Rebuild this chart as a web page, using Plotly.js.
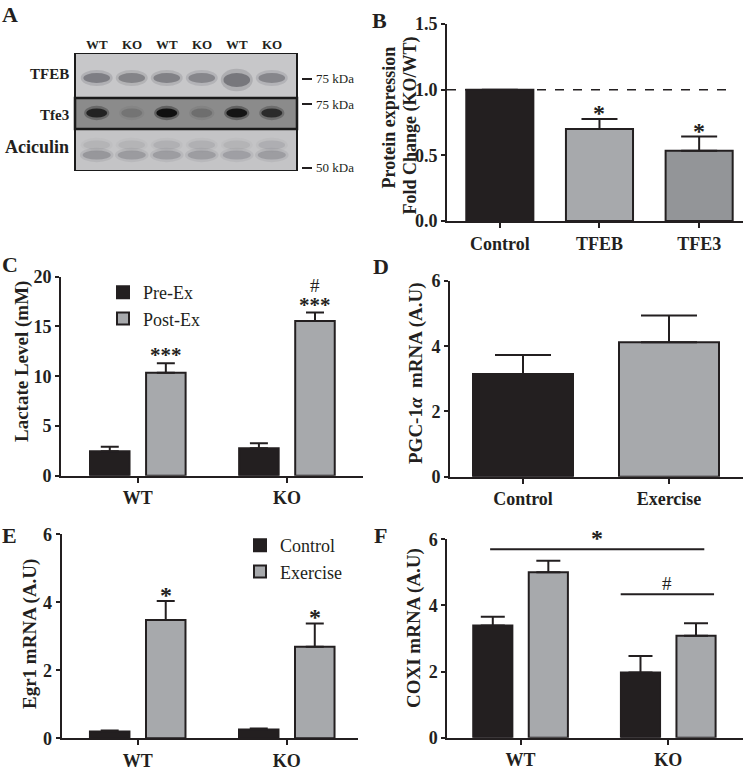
<!DOCTYPE html>
<html>
<head>
<meta charset="utf-8">
<script src="https://cdn.plot.ly/plotly-3.0.1.min.js"></script>
<style>html,body{margin:0;padding:0;background:#fff;}#chart{width:748px;height:770px;}</style>
</head>
<body>
<div id="chart"></div>
<script>
// ---------------- DATA ----------------
// Panel A (western blot) – lanes and relative band darkness
const blotLanes = ['WT', 'KO', 'WT', 'KO', 'WT', 'KO'];
const blotRows = ['TFEB', 'Tfe3', 'Aciculin'];
const tfebBand = [0.55, 0.5, 0.52, 0.48, 0.62, 0.48];
const tfe3Band = [0.8, 0.14, 1.0, 0.18, 0.95, 0.7];
const aciculinLowerBand = [0.5, 0.45, 0.42, 0.42, 0.38, 0.42];
const aciculinUpperBand = [0.22, 0.22, 0.28, 0.28, 0.22, 0.3];
const kdaMarkers = ['75 kDa', '75 kDa', '50 kDa'];

// Panel B
const bCategories = ['Control', 'TFEB', 'TFE3'];
const bValues = [1.0, 0.70, 0.534];
const bErrors = [0, 0.076, 0.109];
const bSignif = ['', '*', '*'];
const bReference = 1.0;
const bTitleLines = ['Protein expression', 'Fold Change (KO/WT)'];

// Panel C
const cGroups = ['WT', 'KO'];
const cPreEx = [2.45, 2.75];
const cPreExErr = [0.45, 0.5];
const cPostEx = [10.35, 15.55];
const cPostExErr = [0.95, 0.85];
const cPostSignif = ['***', '***'];
const cPostHash = ['', '#'];
const cTitle = 'Lactate Level (mM)';

// Panel D
const dCategories = ['Control', 'Exercise'];
const dValues = [3.15, 4.12];
const dErrors = [0.58, 0.82];
const dTitle = 'PGC-1<i>α</i>  mRNA (A.U)';

// Panel E
const eGroups = ['WT', 'KO'];
const eControl = [0.2, 0.26];
const eControlErr = [0.03, 0.03];
const eExercise = [3.48, 2.69];
const eExerciseErr = [0.56, 0.69];
const eSignif = ['*', '*'];
const eTitle = 'Egr1 mRNA (A.U)';

// Panel F
const fGroups = ['WT', 'KO'];
const fControl = [3.39, 1.97];
const fControlErr = [0.27, 0.5];
const fExercise = [5.0, 3.08];
const fExerciseErr = [0.35, 0.38];
const fBrackets = [
  { from: -0.206, to: 1.244, level: 5.7, label: '*' },
  { from: 0.678, to: 1.31, level: 4.34, label: '#' }
];
const fTitle = 'COXI mRNA (A.U)';

// ---------------- STYLE ----------------
const FONT = 'Liberation Serif, "Times New Roman", Times, serif';
const INK = '#231f20';
const DARK = '#231f20';
const LIGHT = '#a7a9ac';
const MID = '#939598';
const W = 748, H = 770;
const px = v => v / W;
const py = v => 1 - v / H;
const GROUP_OFF = 0.188; // centre offset of a bar inside a group (category units)

function errY(arr, cap) {
  return { type: 'data', array: arr, arrayminus: arr.map(() => 0), symmetric: false,
           color: INK, thickness: 2, width: cap, visible: true };
}
const barLine = { color: INK, width: 2 };

const traces = [
  // B
  { type: 'bar', x: bCategories, y: bValues, xaxis: 'x', yaxis: 'y', width: 0.673,
    marker: { color: [DARK, LIGHT, MID], line: barLine }, error_y: errY(bErrors, 18), showlegend: false },
  // C
  { type: 'bar', name: 'Pre-Ex', x: cGroups, y: cPreEx, xaxis: 'x2', yaxis: 'y2',
    marker: { color: DARK, line: barLine }, error_y: errY(cPreExErr, 9), legend: 'legend' },
  { type: 'bar', name: 'Post-Ex', x: cGroups, y: cPostEx, xaxis: 'x2', yaxis: 'y2',
    marker: { color: LIGHT, line: barLine }, error_y: errY(cPostExErr, 9), legend: 'legend' },
  // D
  { type: 'bar', x: dCategories, y: dValues, xaxis: 'x3', yaxis: 'y3', width: 0.685,
    marker: { color: [DARK, LIGHT], line: barLine }, error_y: errY(dErrors, 28), showlegend: false },
  // E
  { type: 'bar', name: 'Control', x: eGroups, y: eControl, xaxis: 'x4', yaxis: 'y4',
    marker: { color: DARK, line: barLine }, error_y: errY(eControlErr, 9), legend: 'legend2' },
  { type: 'bar', name: 'Exercise', x: eGroups, y: eExercise, xaxis: 'x4', yaxis: 'y4',
    marker: { color: LIGHT, line: barLine }, error_y: errY(eExerciseErr, 9), legend: 'legend2' },
  // F
  { type: 'bar', name: 'Control', x: fGroups, y: fControl, xaxis: 'x5', yaxis: 'y5',
    marker: { color: DARK, line: barLine }, error_y: errY(fControlErr, 12), showlegend: false },
  { type: 'bar', name: 'Exercise', x: fGroups, y: fExercise, xaxis: 'x5', yaxis: 'y5',
    marker: { color: LIGHT, line: barLine }, error_y: errY(fExerciseErr, 12), showlegend: false }
];

const tickFont = { family: FONT, size: 18, color: INK, weight: 'bold' };
const titleFont = { family: FONT, size: 19, color: INK, weight: 'bold' };
const bTitleFont = { family: FONT, size: 18, color: INK, weight: 'bold' };
function xAx(domain, range, anchor) {
  return { domain, range, anchor, type: 'category', showline: true, linewidth: 2, linecolor: INK,
           ticks: 'outside', ticklen: 5, tickwidth: 2, tickcolor: INK, tickfont: tickFont,
           showgrid: false, zeroline: false, fixedrange: true };
}
function yAx(domain, range, anchor, dtick, fmt) {
  return { domain, range, anchor, dtick, tick0: 0, tickformat: fmt || '', showline: true, linewidth: 2,
           linecolor: INK, ticks: 'outside', ticklen: 4, tickwidth: 2, tickcolor: INK, tickfont: tickFont,
           showgrid: false, zeroline: false, fixedrange: true };
}

const shapes = [];
const annotations = [];
function paperText(text, x, y, font, extra) {
  annotations.push(Object.assign({ x: px(x), y: py(y), xref: 'paper', yref: 'paper', text, showarrow: false,
                                   xanchor: 'center', yanchor: 'middle', font }, extra || {}));
}

// ---- Y-axis titles (rotated text) ----
paperText(bTitleLines[0], 388.5, 118, bTitleFont, { textangle: -90 });
paperText(bTitleLines[1], 410.5, 126, bTitleFont, { textangle: -90 });
[[cTitle, 22, 362], [dTitle, 416, 373], [eTitle, 30, 634], [fTitle, 414, 628]]
  .forEach(([t, x, y]) => paperText(t, x, y, titleFont, { textangle: -90 }));

// ---- Panel A blot ----
const stripEdges = [0, 45, 76, 118];
const stripColors = ['#c7c7c9', '#8b8b8b', '#c4c4c6'];
for (let r = 0; r < 3; r++) {
  shapes.push({ type: 'rect', xref: 'x6 domain', yref: 'y6', x0: 0, x1: 1, y0: stripEdges[r], y1: stripEdges[r + 1],
                fillcolor: stripColors[r], line: { width: 0 }, layer: 'below' });
}
function band(i, yc, hh, hw, color, alpha) {
  shapes.push({ type: 'circle', xref: 'x6', yref: 'y6', x0: i - hw * 1.2, x1: i + hw * 1.2, y0: yc - hh * 1.6, y1: yc + hh * 1.6,
                fillcolor: color, opacity: alpha * 0.35, line: { width: 0 } });
  shapes.push({ type: 'circle', xref: 'x6', yref: 'y6', x0: i - hw, x1: i + hw, y0: yc - hh, y1: yc + hh,
                fillcolor: color, opacity: alpha, line: { width: 0 } });
}
blotLanes.forEach((lane, i) => {
  band(i, i === 4 ? 27 : 25, i === 4 ? 7 : 5, 0.38, '#55555c', tfebBand[i]);
  band(i, 60, 4.5, 0.3, '#101010', tfe3Band[i]);
  band(i, 92, 4.5, 0.38, '#8c8c92', aciculinUpperBand[i]);
  band(i, 102, 4.5, 0.4, '#77777e', aciculinLowerBand[i]);
  annotations.push({ x: i, y: py(45), xref: 'x6', yref: 'paper', text: lane, showarrow: false,
                     xanchor: 'center', yanchor: 'middle',
                     font: { family: FONT, size: 13, color: INK, weight: 'bold' } });
});
// strip borders
shapes.push({ type: 'rect', xref: 'x6 domain', yref: 'y6', x0: 0, x1: 1, y0: stripEdges[1], y1: stripEdges[2],
              line: { color: '#1a1a1a', width: 2.5 } });
shapes.push({ type: 'rect', xref: 'x6 domain', yref: 'y6', x0: 0, x1: 1, y0: stripEdges[0], y1: stripEdges[3],
              line: { color: '#1a1a1a', width: 2 } });
const rowLabelY = [74, 115, 147];
const rowLabelSize = [15, 15, 18];
blotRows.forEach((t, r) => {
  paperText(t, 71, rowLabelY[r], { family: FONT, size: rowLabelSize[r], color: INK, weight: 'bold' }, { xanchor: 'right' });
});
const kdaY = [79, 104, 168];
kdaMarkers.forEach((t, k) => {
  shapes.push({ type: 'line', xref: 'paper', yref: 'paper', x0: px(302), x1: px(312), y0: py(kdaY[k]), y1: py(kdaY[k]),
                line: { color: INK, width: 2 } });
  paperText(t, 314, kdaY[k], { family: FONT, size: 13, color: INK }, { xanchor: 'left' });
});

// ---- Panel B extras ----
shapes.push({ type: 'line', xref: 'x domain', yref: 'y', x0: 0, x1: 0.963, y0: bReference, y1: bReference,
              line: { color: INK, width: 1.5, dash: 'dash' } });
const starFont = { family: FONT, size: 24, color: INK, weight: 'bold' };
const triStarFont = { family: FONT, size: 21, color: INK, weight: 'bold' };
const hashFont = { family: FONT, size: 19, color: INK };
bSignif.forEach((s, i) => {
  if (!s) return;
  annotations.push({ x: i, y: bValues[i] + bErrors[i], xref: 'x', yref: 'y', text: s, showarrow: false,
                     yanchor: 'middle', yshift: 6, font: starFont });
});
// ---- Panel C extras ----
cPostSignif.forEach((s, i) => {
  annotations.push({ x: i + GROUP_OFF, y: cPostEx[i] + cPostExErr[i], xref: 'x2', yref: 'y2', text: s, showarrow: false,
                     yanchor: 'middle', yshift: 8, font: triStarFont });
  if (cPostHash[i]) {
    annotations.push({ x: i + GROUP_OFF, y: cPostEx[i] + cPostExErr[i], xref: 'x2', yref: 'y2', text: cPostHash[i],
                       showarrow: false, yanchor: 'middle', yshift: 27, font: hashFont });
  }
});
// ---- Panel E extras ----
eSignif.forEach((s, i) => {
  annotations.push({ x: i + GROUP_OFF, y: eExercise[i] + eExerciseErr[i], xref: 'x4', yref: 'y4', text: s, showarrow: false,
                     yanchor: 'middle', yshift: 6, font: starFont });
});
// ---- Panel F extras ----
fBrackets.forEach(b => {
  shapes.push({ type: 'line', xref: 'x5', yref: 'y5', x0: b.from, x1: b.to, y0: b.level, y1: b.level,
                line: { color: INK, width: 2 } });
  annotations.push({ x: (b.from + b.to) / 2, y: b.level, xref: 'x5', yref: 'y5', text: b.label, showarrow: false,
                     yanchor: 'middle', yshift: 11,
                     font: b.label === '*' ? starFont : hashFont });
});
// ---- Panel letters ----
const panelLetters = [['A', 9.5, 15], ['B', 379, 20], ['C', 10, 264], ['D', 381, 266], ['E', 9, 535], ['F', 380, 535]];
panelLetters.forEach(([t, x, y]) => paperText(t, x, y, { family: FONT, size: 22, color: INK, weight: 'bold' }));

const legendBase = { xanchor: 'left', yanchor: 'top', bgcolor: 'rgba(0,0,0,0)', borderwidth: 0,
                     font: { family: FONT, size: 18, color: INK }, tracegroupgap: 0, traceorder: 'normal' };

const layout = {
  width: W, height: H, margin: { l: 0, r: 0, t: 0, b: 0 },
  paper_bgcolor: '#fff', plot_bgcolor: 'rgba(0,0,0,0)',
  barmode: 'group', bargap: 0.248, bargroupgap: 0.295,
  font: { family: FONT, color: INK },
  xaxis: xAx([px(447), px(743)], [-0.53, 2.44], 'y'),
  yaxis: yAx([py(221), py(24)], [0, 1.5], 'x', 0.5, '.1f'),
  xaxis2: xAx([px(61), px(363)], [-0.515, 1.51], 'y2'),
  yaxis2: yAx([py(475.7), py(276.7)], [0, 20], 'x2', 5),
  xaxis3: xAx([px(450), px(742.7)], [-0.5, 1.505], 'y3'),
  yaxis3: yAx([py(476.7), py(281)], [0, 6], 'x3', 2),
  xaxis4: xAx([px(61.7), px(358)], [-0.51, 1.478], 'y4'),
  yaxis4: yAx([py(738.3), py(534.3)], [0, 6], 'x4', 2),
  xaxis5: xAx([px(447.3), px(742.7)], [-0.496, 1.504], 'y5'),
  yaxis5: yAx([py(737.7), py(539.3)], [0, 6], 'x5', 2),
  xaxis6: { domain: [px(75), px(297)], range: [-0.62, 5.72], anchor: 'y6', visible: false, fixedrange: true },
  yaxis6: { domain: [py(171), py(53)], range: [118, 0], anchor: 'x6', visible: false, fixedrange: true },
  legend: Object.assign({}, legendBase, { x: px(103), y: py(274) }),
  legend2: Object.assign({}, legendBase, { x: px(240), y: py(527) }),
  shapes, annotations
};

Plotly.newPlot('chart', traces, layout, { staticPlot: true, displayModeBar: false });
</script>
</body>
</html>
